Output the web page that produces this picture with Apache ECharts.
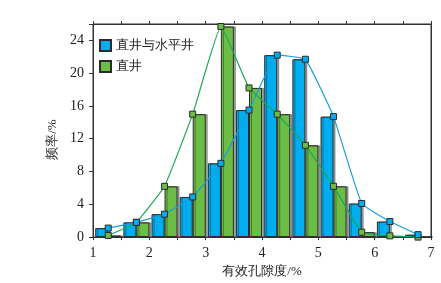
<!DOCTYPE html>
<html>
<head>
<meta charset="utf-8">
<script src="https://cdn.jsdelivr.net/npm/echarts@6/dist/echarts.min.js"></script>
<style>
  html, body { margin: 0; padding: 0; background: #fff; }
  #chart { width: 441px; height: 283px; }
</style>
</head>
<body>
<div id="chart"></div>
<script>
// 孔隙度分组（组中值）
const binMid = [1.27, 1.77, 2.27, 2.77, 3.27, 3.77, 4.27, 4.77, 5.27, 5.77, 6.27, 6.77];
// 直井与水平井 频率/%
const allWells = [1.1, 1.8, 2.8, 4.9, 9.0, 15.5, 22.2, 21.7, 14.7, 4.1, 1.9, 0.3];
// 直井 频率/%
const vertWells = [0.2, 1.8, 6.2, 15.0, 25.7, 18.2, 15.0, 11.2, 6.2, 0.6, 0.15, 0];
const xTicks = [1, 2, 3, 4, 5, 6, 7];

const serif = 'Liberation Serif';

function workNum () {
  const myChart = echarts.init(document.getElementById('chart'));
  const pts = function (ys) {
    return binMid.map(function (x, i) { return [x, ys[i]]; });
  };
  const barStyle = function (c) {
    return {
      color: c,
      borderColor: '#2b2b2b',
      borderWidth: 1,
      shadowColor: 'rgba(0,0,0,0.35)',
      shadowOffsetX: 2,
      shadowBlur: 0
    };
  };
  // 折线挂在顶轴/右轴上（刻度相同）
  const lineSeries = function (name, ys, lineColor, fill) {
    return {
      name: name,
      type: 'line',
      xAxisIndex: 1,
      yAxisIndex: 1,
      data: pts(ys),
      smooth: 0.1,
      symbol: 'rect',
      symbolSize: 6,
      z: 5,
      lineStyle: { color: lineColor, width: 1.2 },
      itemStyle: { color: fill, borderColor: '#2b2b2b', borderWidth: 1 }
    };
  };
  const option = {
    animation: false,
    legend: {
      orient: 'vertical',
      left: 94,
      top: 34,
      icon: 'rect',
      itemWidth: 11,
      itemHeight: 11,
      itemGap: 8,
      data: ['直井与水平井', '直井'],
      textStyle: { fontSize: 12.5, color: '#222', fontFamily: serif }
    },
    grid: {
      left: 93, right: 10, top: 24, bottom: 44,
      show: true, borderColor: '#333', borderWidth: 1
    },
    xAxis: [
      {
        type: 'value',
        min: 1,
        max: 7,
        interval: 0.5,
        name: '有效孔隙度/%',
        nameLocation: 'middle',
        nameGap: 26,
        nameTextStyle: { fontSize: 13, color: '#222', fontFamily: serif },
        axisLine: { show: true, onZero: false, lineStyle: { color: '#333', width: 1 } },
        axisTick: { show: true, length: 3, lineStyle: { color: '#333' } },
        axisLabel: {
          margin: 9,
          fontSize: 14,
          color: '#222',
          fontFamily: serif,
          formatter: function (v) { return xTicks.indexOf(v) >= 0 ? String(v) : ''; }
        },
        splitLine: { show: false }
      },
      {
        type: 'value',
        show: true,
        position: 'top',
        min: 1,
        max: 7,
        interval: 0.5,
        axisLine: { show: true, onZero: false, lineStyle: { color: '#333', width: 1 } },
        axisTick: { show: true, length: 3, lineStyle: { color: '#333' } },
        axisLabel: { show: false },
        splitLine: { show: false }
      }
    ],
    yAxis: [
      {
        type: 'value',
        min: 0,
        max: 26,
        interval: 4,
        name: '频率/%',
        nameLocation: 'middle',
        nameGap: 22,
        nameTextStyle: { fontSize: 13, color: '#222', fontFamily: serif, padding: [0, 0, 0, -18] },
        axisLine: { show: true, onZero: false, lineStyle: { color: '#333', width: 1 } },
        axisTick: { show: true, length: 4, lineStyle: { color: '#333' } },
        axisLabel: {
          margin: 9,
          fontSize: 14,
          color: '#222',
          fontFamily: serif,
          formatter: function (v) { return v % 4 === 0 ? String(v) : ''; }
        },
        splitLine: { show: false }
      },
      {
        type: 'value',
        show: true,
        position: 'right',
        min: 0,
        max: 26,
        axisLine: { show: true, onZero: false, lineStyle: { color: '#333', width: 1 } },
        axisTick: { show: false },
        axisLabel: { show: false },
        splitLine: { show: false }
      }
    ],
    series: [
      {
        name: '直井与水平井',
        type: 'bar',
        data: pts(allWells),
        barWidth: 13,
        barGap: '0%',
        itemStyle: barStyle('#00aeef')
      },
      {
        name: '直井',
        type: 'bar',
        data: pts(vertWells),
        barWidth: 13,
        barGap: '0%',
        itemStyle: barStyle('#6cbd45')
      },
      lineSeries('直井', vertWells, '#17a85a', '#6cbd45'),
      lineSeries('直井与水平井', allWells, '#1b9ddb', '#00aeef')
    ]
  };
  myChart.setOption(option);
  window.addEventListener('resize', function () {
    myChart.resize();
  });
}
workNum();
</script>
</body>
</html>
